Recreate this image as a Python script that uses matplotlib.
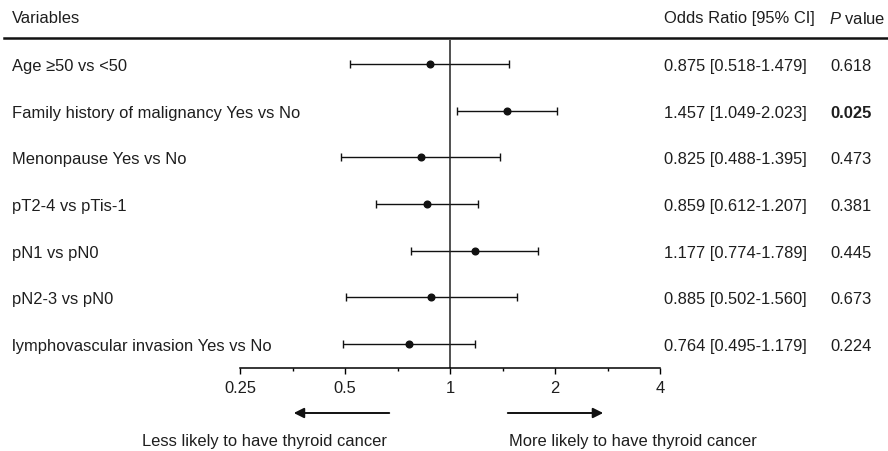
import matplotlib
matplotlib.use("Agg")
import matplotlib.pyplot as plt
import matplotlib.transforms as mtransforms
from matplotlib.lines import Line2D
import numpy as np

plt.rcParams['font.family'] = ['Liberation Sans', 'DejaVu Sans']
plt.rcParams['mathtext.fontset'] = 'custom'
plt.rcParams['mathtext.it'] = 'Liberation Sans:italic'
plt.rcParams['mathtext.rm'] = 'Liberation Sans'

variables = [
    "Age \u226550 vs <50",
    "Family history of malignancy Yes vs No",
    "Menonpause Yes vs No",
    "pT2-4 vs pTis-1",
    "pN1 vs pN0",
    "pN2-3 vs pN0",
    "lymphovascular invasion Yes vs No",
]
odds_ratio = [0.875, 1.457, 0.825, 0.859, 1.177, 0.885, 0.764]
ci_low = [0.518, 1.049, 0.488, 0.612, 0.774, 0.502, 0.495]
ci_high = [1.479, 2.023, 1.395, 1.207, 1.789, 1.560, 1.179]
p_values = ["0.618", "0.025", "0.473", "0.381", "0.445", "0.673", "0.224"]
p_bold = [False, True, False, False, False, False, False]

x_ticks = [0.25, 0.5, 1, 2, 4]
x_tick_labels = ["0.25", "0.5", "1", "2", "4"]

W, H = 888, 452
fig = plt.figure(figsize=(W / 100, H / 100), dpi=100)
fs = 11.9
tc = '#1e1e1e'

def fx(px):
    return px / W

def fy(py):
    return 1 - py / H

ax = fig.add_axes([fx(240), fy(369), fx(660) - fx(240), fy(41) - fy(369)])
ax.set_xscale('log', base=2)
ax.set_xlim(0.25, 4)
n = len(variables)
ypos = np.arange(n)
ax.set_ylim(n - 0.486, -0.514)

or_arr = np.array(odds_ratio)
err = np.vstack([or_arr - np.array(ci_low), np.array(ci_high) - or_arr])
ax.errorbar(or_arr, ypos, xerr=err, fmt='o', color='#111111', ms=4.8,
            elinewidth=1.0, capsize=2.6, capthick=1.0)
ax.axvline(1, color='#222222', lw=1.1)

for s in ['top', 'right', 'left']:
    ax.spines[s].set_visible(False)
ax.spines['bottom'].set_linewidth(1.1)
ax.set_yticks([])
ax.set_xticks(x_ticks)
ax.set_xticklabels(x_tick_labels, fontsize=fs, color=tc)
minor = [np.sqrt(x_ticks[i] * x_ticks[i + 1]) for i in range(len(x_ticks) - 1)]
ax.xaxis.set_minor_locator(matplotlib.ticker.FixedLocator(minor))
ax.xaxis.set_minor_formatter(matplotlib.ticker.NullFormatter())
ax.tick_params(axis='x', which='major', length=4.5, width=1.0, pad=4.5)
ax.tick_params(axis='x', which='minor', length=2.5, width=1.0)

# Row texts
trans = mtransforms.blended_transform_factory(fig.transFigure, ax.transData)
for i in range(n):
    fig.text(fx(12), ypos[i], variables[i], transform=trans, fontsize=fs,
             va='center_baseline', ha='left', color=tc)
    or_txt = f"{odds_ratio[i]:.3f} [{ci_low[i]:.3f}-{ci_high[i]:.3f}]"
    fig.text(fx(664), ypos[i], or_txt, transform=trans, fontsize=fs,
             va='center_baseline', ha='left', color=tc)
    fig.text(fx(830), ypos[i], p_values[i], transform=trans, fontsize=fs,
             va='center_baseline', ha='left', color=tc,
             fontweight='bold' if p_bold[i] else 'normal')

# Header
fig.text(fx(12), fy(17), "Variables", fontsize=fs, va='center_baseline', ha='left', color=tc)
fig.text(fx(664), fy(17), "Odds Ratio [95% CI]", fontsize=fs, va='center_baseline', ha='left', color=tc)
fig.text(fx(829), fy(17), "$\\mathit{P}$ value", fontsize=fs, va='center_baseline', ha='left', color=tc)
fig.add_artist(Line2D([fx(4), fx(888)], [fy(39), fy(39)], transform=fig.transFigure,
                      color='#111111', lw=1.8))

# Direction arrows
ax.annotate("", xy=(0.35, 38), xytext=(0.682, 38), xycoords=('data', 'figure pixels'),
            textcoords=('data', 'figure pixels'),
            arrowprops=dict(arrowstyle='-|>', color='#111111', lw=1.4, mutation_scale=15),
            annotation_clip=False)
ax.annotate("", xy=(2.80, 38), xytext=(1.438, 38), xycoords=('data', 'figure pixels'),
            textcoords=('data', 'figure pixels'),
            arrowprops=dict(arrowstyle='-|>', color='#111111', lw=1.4, mutation_scale=15),
            annotation_clip=False)
fig.text(fx(264), fy(440), "Less likely to have thyroid cancer", fontsize=fs,
         ha='center', va='center_baseline', color=tc)
fig.text(fx(633), fy(440), "More likely to have thyroid cancer", fontsize=fs,
         ha='center', va='center_baseline', color=tc)

fig.savefig("out.png", dpi=100)
